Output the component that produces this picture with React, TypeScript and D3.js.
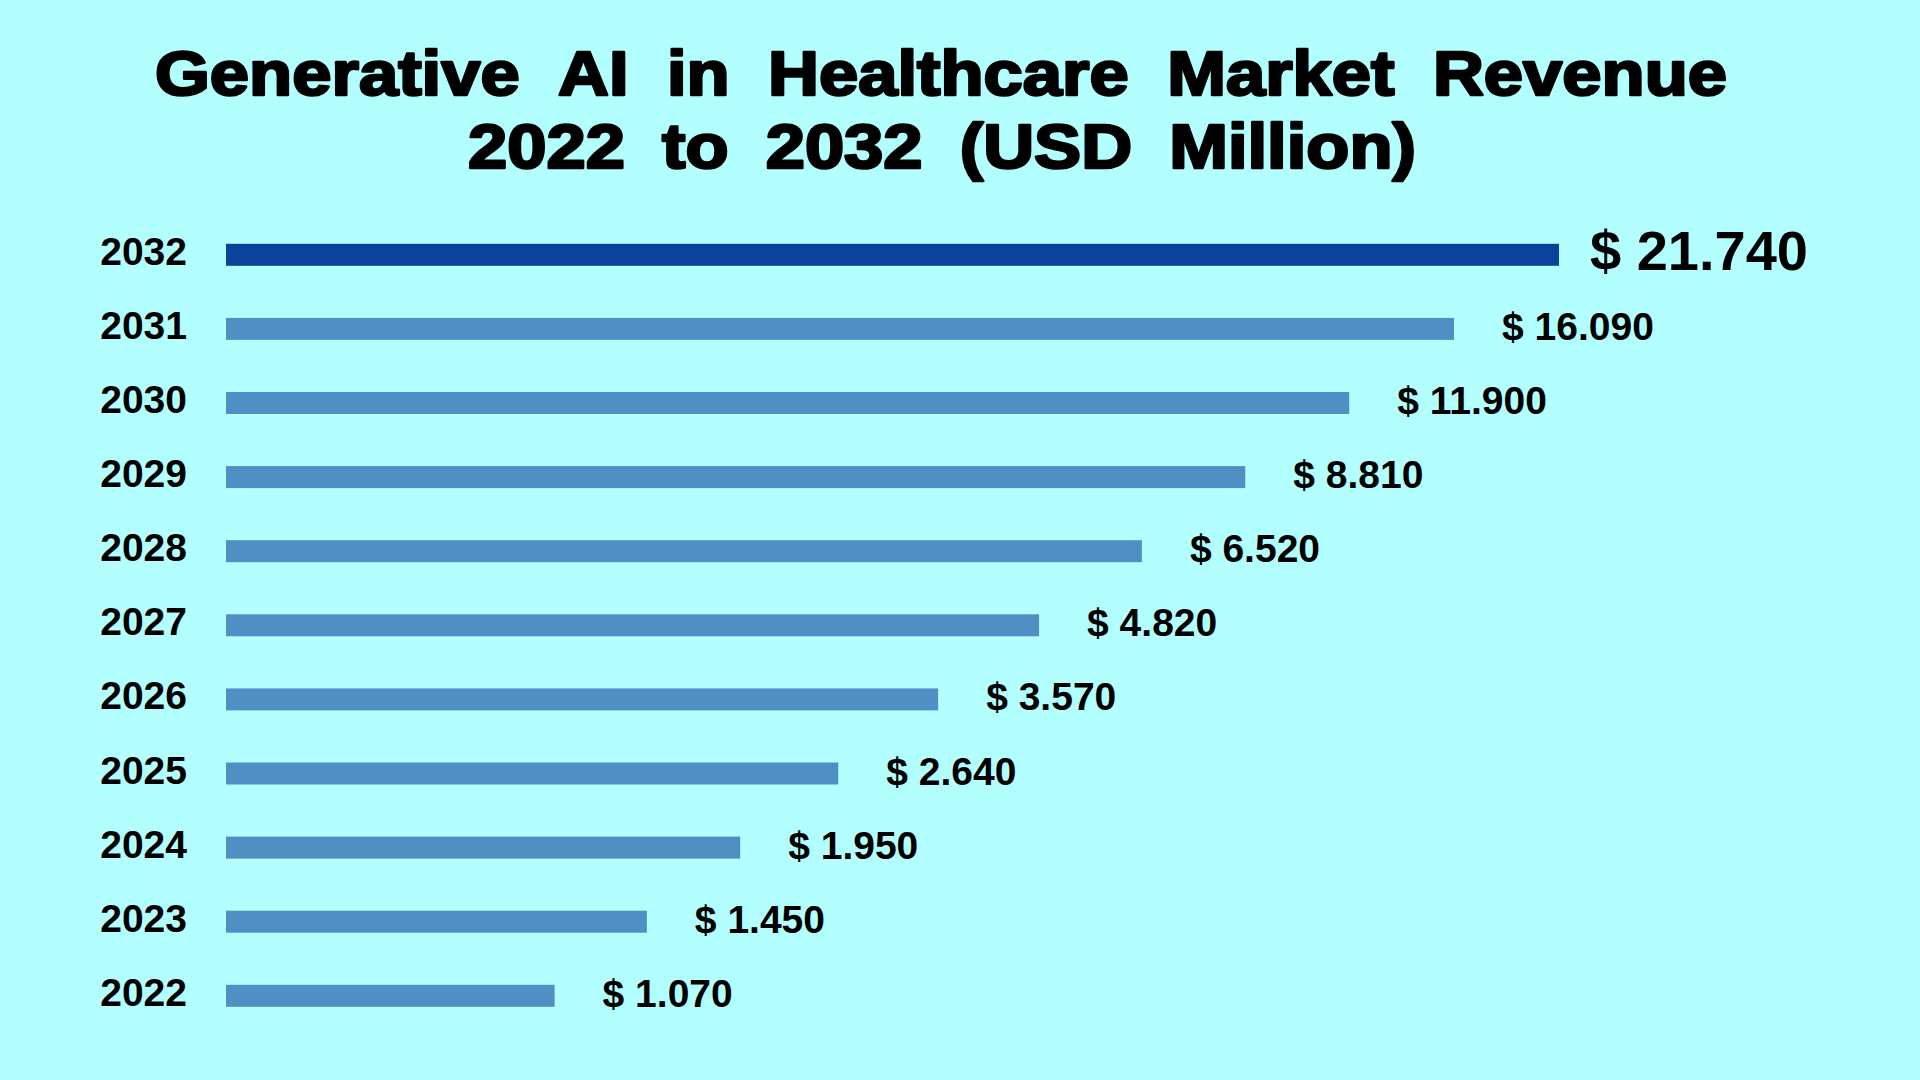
import React, { useLayoutEffect, useRef, useState } from 'react';
import * as d3 from 'd3';

// ---- data ----
const years: string[] = ['2032', '2031', '2030', '2029', '2028', '2027', '2026', '2025', '2024', '2023', '2022'];
const revenue: number[] = [21.74, 16.09, 11.9, 8.81, 6.52, 4.82, 3.57, 2.64, 1.95, 1.45, 1.07];
const valueLabels: string[] = ['$ 21.740', '$ 16.090', '$ 11.900', '$ 8.810', '$ 6.520', '$ 4.820', '$ 3.570', '$ 2.640', '$ 1.950', '$ 1.450', '$ 1.070'];
const highlightYear = '2032';
const titleLines: string[] = ['Generative AI in Healthcare Market Revenue', '2022 to 2032 (USD Million)'];

// ---- layout / style ----
const W = 1920;
const H = 1080;
const BG = '#b3ffff';
const BAR = '#4f8fc4';
const BAR_HI = '#0a4399';
const FONT = "'Liberation Sans', Arial, Helvetica, sans-serif";
const PLOT_LEFT = 226;
const PLOT_RIGHT = 1559;
const BAR_H = 22;

const xScale = d3.scaleSymlog().constant(0.2).domain([0.3, d3.max(revenue) as number]).range([PLOT_LEFT, PLOT_RIGHT]);
const yScale = d3.scalePoint<string>().domain(years).range([254.8, 995.8]);

type LineProps = { text: string; left: number; right: number; baseline: number; fontSize: number; sx: number };

function JustifiedLine({ text, left, right, baseline, fontSize, sx }: LineProps) {
  const words = text.split(' ');
  const refs = useRef<(SVGTextElement | null)[]>([]);
  const [xs, setXs] = useState<number[] | null>(null);
  useLayoutEffect(() => {
    const widths = refs.current.slice(0, words.length).map((el) => (el ? el.getBBox().width * sx : 0));
    const total = widths.reduce((a, b) => a + b, 0);
    const gap = words.length > 1 ? (right - left - total) / (words.length - 1) : 0;
    let cx = left;
    const out: number[] = [];
    widths.forEach((w) => {
      out.push(cx);
      cx += w + gap;
    });
    setXs(out);
  }, [text, left, right, sx]);
  return (
    <g>
      {words.map((w, i) => (
        <text
          key={i}
          ref={(el) => {
            refs.current[i] = el;
          }}
          transform={`translate(${xs ? xs[i] : left},${baseline}) scale(${sx},1)`}
          fontFamily={FONT}
          fontWeight="bold"
          fontSize={fontSize}
          fill="#000"
          stroke="#000"
          strokeWidth={2.6}
          strokeLinejoin="round"
        >
          {w}
        </text>
      ))}
    </g>
  );
}

export default function App() {
  return (
    <svg width={W} height={H} viewBox={`0 0 ${W} ${H}`} style={{ position: 'absolute', left: 0, top: 0, display: 'block' }}>
      <rect x={0} y={0} width={W} height={H} fill={BG} />
      <JustifiedLine text={titleLines[0]} left={155} right={1727} baseline={95} fontSize={63} sx={1.12} />
      <JustifiedLine text={titleLines[1]} left={468} right={1416} baseline={168} fontSize={63} sx={1.12} />
      {years.map((yr, i) => {
        const cy = yScale(yr) as number;
        const hi = yr === highlightYear;
        const xEnd = xScale(revenue[i]);
        return (
          <g key={yr}>
            <text x={187} y={cy + 10} textAnchor="end" fontFamily={FONT} fontWeight="bold" fontSize={39} fill="#000">
              {yr}
            </text>
            <rect x={PLOT_LEFT} y={cy - BAR_H / 2} width={xEnd - PLOT_LEFT} height={BAR_H} fill={hi ? BAR_HI : BAR} />
            <text
              x={xEnd + (hi ? 31 : 48)}
              y={cy + (hi ? 15.5 : 11)}
              fontFamily={FONT}
              fontWeight="bold"
              fontSize={hi ? 56 : 39}
              fill="#000"
            >
              {valueLabels[i]}
            </text>
          </g>
        );
      })}
    </svg>
  );
}
